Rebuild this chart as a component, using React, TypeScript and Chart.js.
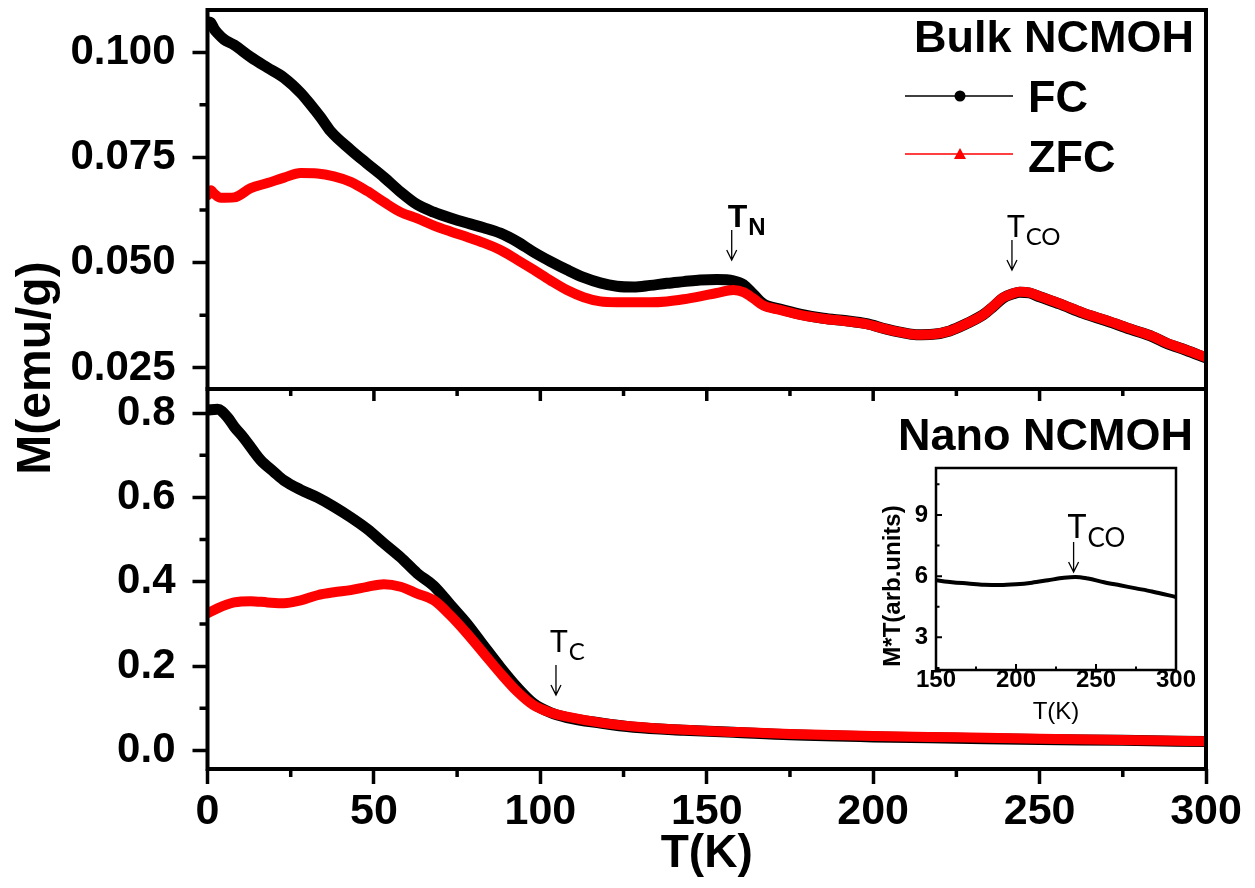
import React, { useEffect, useRef } from "react";
import { Chart, registerables } from "chart.js";
Chart.register(...registerables);

const FONT = '"Liberation Sans", Arial, sans-serif';
const ANN = 'Lato, "Open Sans", sans-serif';

// ---------- Bulk NCMOH (top panel) ----------
const bulkT_FC = [0, 1, 2, 3, 5, 8, 13, 18, 23, 28, 31, 34, 37, 43, 48, 53, 58, 63, 68, 73, 78, 83, 88, 93, 98, 103, 108, 113, 118, 123, 128, 133, 138, 143, 148, 153, 158, 161, 164, 167, 172, 178, 185, 192, 198, 204, 208, 213, 218, 223, 228, 233, 236, 239, 242, 244, 247, 250, 256, 263, 270, 278, 284, 288, 294, 300];
const bulkFC = [0.1072, 0.1070, 0.1055, 0.1045, 0.1030, 0.1017, 0.0988, 0.0963, 0.0939, 0.0903, 0.0875, 0.0845, 0.0812, 0.0768, 0.0735, 0.0703, 0.0668, 0.0638, 0.0620, 0.0606, 0.0594, 0.0583, 0.0570, 0.0550, 0.0525, 0.0503, 0.0483, 0.0465, 0.0452, 0.0444, 0.0442, 0.0446, 0.0451, 0.0455, 0.0459, 0.0460, 0.0457, 0.0448, 0.0425, 0.0402, 0.0390, 0.0378, 0.0368, 0.0362, 0.0355, 0.0342, 0.0335, 0.0329, 0.0330, 0.0338, 0.0355, 0.0376, 0.0395, 0.0416, 0.0426, 0.0430, 0.0428, 0.0419, 0.0402, 0.0380, 0.0362, 0.0340, 0.0324, 0.0309, 0.0292, 0.0274];
const bulkT_ZFC = [0, 1, 2, 4, 8, 13, 18, 23, 28, 33, 38, 43, 48, 53, 58, 63, 68, 73, 78, 83, 88, 93, 98, 103, 108, 113, 118, 123, 128, 133, 138, 143, 148, 153, 158, 161, 164, 167, 172, 178, 185, 192, 198, 204, 208, 213, 218, 223, 228, 233, 236, 239, 242, 244, 247, 250, 256, 263, 270, 278, 284, 288, 294, 300];
const bulkZFC = [0.0660, 0.0672, 0.0664, 0.0654, 0.0655, 0.0677, 0.0689, 0.0702, 0.0713, 0.0712, 0.0705, 0.0692, 0.0670, 0.0644, 0.0620, 0.0605, 0.0588, 0.0574, 0.0561, 0.0547, 0.0530, 0.0507, 0.0483, 0.0458, 0.0435, 0.0418, 0.0408, 0.0406, 0.0406, 0.0406, 0.0408, 0.0413, 0.0420, 0.0428, 0.0435, 0.0430, 0.0415, 0.0398, 0.0388, 0.0376, 0.0367, 0.0361, 0.0354, 0.0342, 0.0335, 0.0329, 0.0330, 0.0338, 0.0355, 0.0376, 0.0396, 0.0417, 0.0427, 0.0431, 0.0429, 0.0420, 0.0403, 0.0381, 0.0363, 0.0341, 0.0325, 0.0310, 0.0293, 0.0275];
const bulkYTicks = [0.025, 0.05, 0.075, 0.1];
const bulkYMinor = [0.0375, 0.0625, 0.0875];

// ---------- Nano NCMOH (bottom panel) ----------
const nanoT_FC = [0, 3, 6, 8, 11, 14, 16, 20, 23, 28, 33, 38, 43, 48, 53, 58, 63, 68, 73, 78, 83, 88, 93, 98, 103, 108, 118, 128, 143, 158, 175, 200, 225, 250, 275, 300];
const nanoFC = [0.807, 0.809, 0.790, 0.768, 0.740, 0.708, 0.688, 0.660, 0.640, 0.618, 0.600, 0.578, 0.553, 0.525, 0.491, 0.458, 0.420, 0.390, 0.345, 0.300, 0.248, 0.197, 0.150, 0.111, 0.090, 0.078, 0.065, 0.055, 0.048, 0.043, 0.037, 0.032, 0.029, 0.026, 0.024, 0.021];
const nanoT_ZFC = [0, 3, 8, 13, 18, 23, 28, 33, 38, 43, 48, 53, 58, 63, 68, 73, 78, 83, 88, 93, 98, 103, 108, 118, 128, 143, 158, 175, 200, 225, 250, 275, 300];
const nanoZFC = [0.325, 0.337, 0.351, 0.354, 0.351, 0.349, 0.356, 0.368, 0.375, 0.380, 0.388, 0.394, 0.388, 0.372, 0.356, 0.320, 0.277, 0.230, 0.183, 0.140, 0.107, 0.090, 0.080, 0.066, 0.057, 0.049, 0.044, 0.039, 0.034, 0.031, 0.028, 0.025, 0.022];
const nanoYTicks = [0, 0.2, 0.4, 0.6, 0.8];
const nanoYMinor = [0.1, 0.3, 0.5, 0.7];

// ---------- shared x ----------
const xTicks = [0, 50, 100, 150, 200, 250, 300];
const xMinor = [25, 75, 125, 175, 225, 275];

// ---------- inset ----------
const insetT = [150, 160, 170, 180, 190, 200, 210, 220, 230, 237, 245, 255, 265, 275, 285, 300];
const insetMT = [5.8, 5.7, 5.64, 5.58, 5.56, 5.6, 5.68, 5.8, 5.92, 5.96, 5.88, 5.7, 5.55, 5.4, 5.25, 4.98];
const insetXTicks = [150, 200, 250, 300];
const insetXMinor = [175, 225, 275];
const insetYTicks = [3, 6, 9];
const insetYMinor = [1.5, 4.5, 7.5, 10.5];

const pts = (xs: number[], ys: number[]) => xs.map((x, i) => ({ x, y: ys[i] }));

function arrow(ctx: CanvasRenderingContext2D, x: number, y1: number, y2: number) {
  ctx.save();
  ctx.strokeStyle = "#000";
  ctx.lineWidth = 1.3;
  ctx.beginPath();
  ctx.moveTo(x, y1);
  ctx.lineTo(x, y2);
  ctx.moveTo(x - 5, y2 - 10);
  ctx.lineTo(x, y2);
  ctx.lineTo(x + 5, y2 - 10);
  ctx.stroke();
  ctx.restore();
}

function subLabel(ctx: CanvasRenderingContext2D, main: string, sub: string, x: number, base: number, mSize: number, sSize: number, weight: string, family: string, drop: number) {
  ctx.save();
  ctx.fillStyle = "#000";
  ctx.textAlign = "left";
  ctx.textBaseline = "alphabetic";
  ctx.font = `${weight} ${mSize}px ${family}`;
  ctx.fillText(main, x, base);
  const w = ctx.measureText(main).width;
  ctx.font = `${weight} ${sSize}px ${family}`;
  ctx.fillText(sub, x + w + 1, base + drop);
  ctx.restore();
}

function frame(ctx: CanvasRenderingContext2D, a: any, lw: number) {
  ctx.save();
  ctx.strokeStyle = "#000";
  ctx.lineWidth = lw;
  ctx.strokeRect(a.left, a.top, a.right - a.left, a.bottom - a.top);
  ctx.restore();
}

const topPlugin = {
  id: "topDecor",
  afterDraw(chart: any) {
    const { ctx, chartArea: a, scales } = chart;
    const y = scales.y;
    const x = scales.x;
    frame(ctx, a, 4);
    ctx.save();
    ctx.strokeStyle = "#000";
    ctx.lineWidth = 3.5;
    ctx.beginPath();
    for (const v of bulkYMinor) {
      const p = y.getPixelForValue(v);
      ctx.moveTo(a.left - 8, p);
      ctx.lineTo(a.left, p);
    }
    ctx.stroke();

    // panel label
    ctx.fillStyle = "#000";
    ctx.font = `bold 45px ${FONT}`;
    ctx.textAlign = "right";
    ctx.textBaseline = "alphabetic";
    ctx.fillText("Bulk NCMOH", 1194, 52);

    // legend
    const ds0 = chart.data.datasets[1];
    const ds1 = chart.data.datasets[0];
    ctx.lineWidth = 1.5;
    ctx.strokeStyle = ds0.borderColor;
    ctx.beginPath();
    ctx.moveTo(905, 96);
    ctx.lineTo(1013, 96);
    ctx.stroke();
    ctx.fillStyle = ds0.borderColor;
    ctx.beginPath();
    ctx.arc(960, 96, 5.5, 0, Math.PI * 2);
    ctx.fill();
    ctx.strokeStyle = ds1.borderColor;
    ctx.beginPath();
    ctx.moveTo(905, 154);
    ctx.lineTo(1013, 154);
    ctx.stroke();
    ctx.fillStyle = ds1.borderColor;
    ctx.beginPath();
    ctx.moveTo(960, 148);
    ctx.lineTo(966, 159);
    ctx.lineTo(954, 159);
    ctx.closePath();
    ctx.fill();
    ctx.fillStyle = "#000";
    ctx.textAlign = "left";
    ctx.font = `bold 45px ${FONT}`;
    ctx.fillText(ds0.label, 1028, 112);
    ctx.fillText(ds1.label, 1028, 172);

    // y title
    ctx.save();
    ctx.translate(50, 368);
    ctx.rotate(-Math.PI / 2);
    ctx.textAlign = "center";
    ctx.font = `bold 48px ${FONT}`;
    ctx.fillText("M(emu/g)", 0, 0);
    ctx.restore();
    ctx.restore();

    // annotations
    const xN = x.getPixelForValue(157.5);
    subLabel(ctx, "T", "N", xN - 4, 227, 32, 24, "bold", FONT, 8);
    arrow(ctx, xN, 230, 260);
    const xCO = x.getPixelForValue(241.7);
    subLabel(ctx, "T", "CO", xCO - 5, 237, 30, 24, "normal", ANN, 8);
    arrow(ctx, xCO, 240, 270);
  },
};

const botPlugin = {
  id: "botDecor",
  afterDraw(chart: any) {
    const { ctx, chartArea: a, scales } = chart;
    const y = scales.y;
    const x = scales.x;
    frame(ctx, a, 4);
    ctx.save();
    ctx.strokeStyle = "#000";
    ctx.lineWidth = 3.5;
    ctx.beginPath();
    for (const v of nanoYMinor) {
      const p = y.getPixelForValue(v);
      ctx.moveTo(a.left - 8, p);
      ctx.lineTo(a.left, p);
    }
    for (const v of xMinor) {
      const p = x.getPixelForValue(v);
      ctx.moveTo(p, a.bottom);
      ctx.lineTo(p, a.bottom + 8);
      ctx.moveTo(p, a.top);
      ctx.lineTo(p, a.top + 7);
    }
    for (const v of xTicks.slice(1, -1)) {
      const p = x.getPixelForValue(v);
      ctx.moveTo(p, a.top);
      ctx.lineTo(p, a.top + 12);
    }
    ctx.stroke();

    ctx.fillStyle = "#000";
    ctx.font = `bold 45px ${FONT}`;
    ctx.textAlign = "right";
    ctx.textBaseline = "alphabetic";
    ctx.fillText("Nano NCMOH", 1193, 450);
    ctx.restore();

    const xC = x.getPixelForValue(104.7);
    subLabel(ctx, "T", "C", xC - 6, 652, 30, 24, "normal", ANN, 8);
    arrow(ctx, xC, 665, 695);
  },
};

const insetPlugin = {
  id: "insetDecor",
  afterDraw(chart: any) {
    const { ctx, chartArea: a, scales } = chart;
    const y = scales.y;
    const x = scales.x;
    frame(ctx, a, 2.5);
    ctx.save();
    ctx.strokeStyle = "#000";
    ctx.lineWidth = 2;
    ctx.beginPath();
    for (const v of insetYTicks) {
      const p = y.getPixelForValue(v);
      ctx.moveTo(a.left, p);
      ctx.lineTo(a.left + 6, p);
    }
    for (const v of insetYMinor) {
      const p = y.getPixelForValue(v);
      ctx.moveTo(a.left, p);
      ctx.lineTo(a.left + 3.5, p);
    }
    for (const v of insetXTicks) {
      const p = x.getPixelForValue(v);
      ctx.moveTo(p, a.bottom);
      ctx.lineTo(p, a.bottom - 6);
    }
    for (const v of insetXMinor) {
      const p = x.getPixelForValue(v);
      ctx.moveTo(p, a.bottom);
      ctx.lineTo(p, a.bottom - 3.5);
    }
    ctx.stroke();

    ctx.fillStyle = "#000";
    ctx.textAlign = "center";
    ctx.textBaseline = "middle";
    ctx.font = `normal 24px ${FONT}`;
    ctx.fillText("T(K)", (a.left + a.right) / 2, 262);
    ctx.save();
    ctx.translate(33, 136);
    ctx.rotate(-Math.PI / 2);
    ctx.font = `bold 24px ${FONT}`;
    ctx.fillText("M*T(arb.units)", 0, 0);
    ctx.restore();
    ctx.restore();

    const xCO = x.getPixelForValue(236);
    subLabel(ctx, "T", "CO", xCO - 6, 88, 32, 26, "normal", ANN, 9);
    arrow(ctx, xCO, 92, 122);
  },
};

const lineDs = (label: string, data: any[], color: string, width: number, order: number) => ({
  label,
  data,
  borderColor: color,
  backgroundColor: color,
  borderWidth: width,
  pointRadius: 0,
  cubicInterpolationMode: "monotone" as const,
  borderCapStyle: "round" as const,
  borderJoinStyle: "round" as const,
  fill: false,
  order,
});

const noPad = (s: any) => {
  s.paddingTop = 0;
  s.paddingBottom = 0;
};

const yAxisCommon = (ticksArr: number[], digits: number) => ({
  afterFit: (s: any) => {
    s.width = 207.5;
    noPad(s);
  },
  afterBuildTicks: (s: any) => {
    s.ticks = ticksArr.map((v) => ({ value: v }));
  },
  grid: { drawOnChartArea: false, drawTicks: true, tickLength: 15, tickWidth: 3.5, tickColor: "#000" },
  border: { display: false },
  ticks: {
    font: { family: FONT, size: 42, weight: "bold" as const },
    color: "#000",
    padding: 17,
    callback: (v: any) => Number(v).toFixed(digits),
  },
});

export default function App() {
  const topRef = useRef<HTMLCanvasElement>(null);
  const botRef = useRef<HTMLCanvasElement>(null);
  const insRef = useRef<HTMLCanvasElement>(null);

  useEffect(() => {
    const top = new Chart(topRef.current!, {
      type: "line",
      data: {
        datasets: [
          lineDs("ZFC", pts(bulkT_ZFC, bulkZFC), "#ff0000", 10, 0),
          lineDs("FC", pts(bulkT_FC, bulkFC), "#000000", 11, 1),
        ],
      },
      options: {
        animation: false,
        responsive: false,
        maintainAspectRatio: false,
        events: [],
        layout: { padding: { left: 0, top: 10, right: 49, bottom: 499 } },
        plugins: { legend: { display: false }, tooltip: { enabled: false } },
        scales: {
          x: { type: "linear", min: 0, max: 300, display: false },
          y: { type: "linear", min: 0.02, max: 0.11, ...yAxisCommon(bulkYTicks, 3) },
        },
      } as any,
      plugins: [topPlugin],
    });

    const bot = new Chart(botRef.current!, {
      type: "line",
      data: {
        datasets: [
          lineDs("ZFC", pts(nanoT_ZFC, nanoZFC), "#ff0000", 10, 0),
          lineDs("FC", pts(nanoT_FC, nanoFC), "#000000", 11, 1),
        ],
      },
      options: {
        animation: false,
        responsive: false,
        maintainAspectRatio: false,
        events: [],
        layout: { padding: { left: 0, top: 389, right: 49, bottom: 0 } },
        plugins: { legend: { display: false }, tooltip: { enabled: false } },
        scales: {
          x: {
            type: "linear",
            min: 0,
            max: 300,
            afterFit: (s: any) => {
              s.height = 119;
            },
            afterBuildTicks: (s: any) => {
              s.ticks = xTicks.map((v) => ({ value: v }));
            },
            grid: { drawOnChartArea: false, drawTicks: true, tickLength: 15, tickWidth: 3.5, tickColor: "#000" },
            border: { display: false },
            ticks: {
              font: { family: FONT, size: 43, weight: "bold" },
              color: "#000",
              padding: 2,
              maxRotation: 0,
              callback: (v: any) => String(v),
            },
            title: {
              display: true,
              text: "T(K)",
              color: "#000",
              font: { family: FONT, size: 46, weight: "bold" },
              padding: { top: 0, bottom: 6 },
            },
          },
          y: { type: "linear", min: -0.044, max: 0.857, ...yAxisCommon(nanoYTicks, 1) },
        },
      } as any,
      plugins: [botPlugin],
    });

    const ins = new Chart(insRef.current!, {
      type: "line",
      data: {
        datasets: [lineDs("M*T", pts(insetT, insetMT), "#000000", 4, 0)],
      },
      options: {
        animation: false,
        responsive: false,
        maintainAspectRatio: false,
        events: [],
        layout: { padding: { left: 0, top: 18, right: 29, bottom: 0 } },
        plugins: { legend: { display: false }, tooltip: { enabled: false } },
        scales: {
          x: {
            type: "linear",
            min: 150,
            max: 300,
            afterFit: (s: any) => {
              s.height = 70;
            },
            afterBuildTicks: (s: any) => {
              s.ticks = insetXTicks.map((v) => ({ value: v }));
            },
            grid: { drawOnChartArea: false, drawTicks: false },
            border: { display: false },
            ticks: {
              font: { family: FONT, size: 24, weight: "bold" },
              color: "#000",
              padding: -4,
              maxRotation: 0,
              callback: (v: any) => String(v),
            },
          },
          y: {
            type: "linear",
            min: 1.4,
            max: 11.3,
            afterFit: (s: any) => {
              s.width = 76;
              noPad(s);
            },
            afterBuildTicks: (s: any) => {
              s.ticks = insetYTicks.map((v) => ({ value: v }));
            },
            grid: { drawOnChartArea: false, drawTicks: false },
            border: { display: false },
            ticks: {
              font: { family: FONT, size: 24, weight: "bold" },
              color: "#000",
              padding: 8,
              callback: (v: any) => String(v),
            },
          },
        },
      } as any,
      plugins: [insetPlugin],
    });

    return () => {
      top.destroy();
      bot.destroy();
      ins.destroy();
    };
  }, []);

  return (
    <div style={{ position: "absolute", left: 0, top: 0, width: 1255, height: 888, background: "#fff", overflow: "hidden" }}>
      <canvas ref={botRef} width={1255} height={888} style={{ position: "absolute", left: 0, top: 0 }} />
      <canvas ref={topRef} width={1255} height={888} style={{ position: "absolute", left: 0, top: 0 }} />
      <canvas ref={insRef} width={345} height={290} style={{ position: "absolute", left: 860, top: 450 }} />
    </div>
  );
}
